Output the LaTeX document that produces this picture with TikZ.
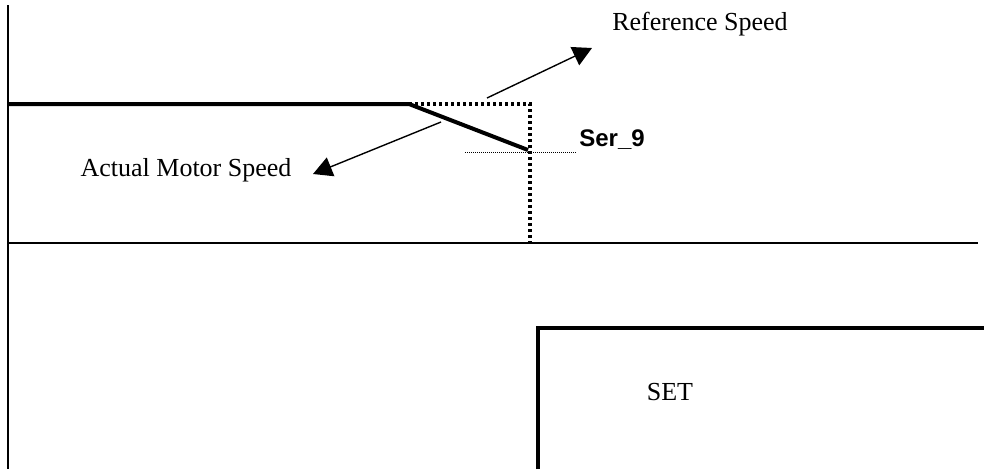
\documentclass[tikz,border=0pt]{standalone}
\usepackage{fontspec}
\setmainfont{Liberation Serif}
\setsansfont{Liberation Sans}
\usetikzlibrary{arrows.meta,positioning}

\begin{document}
\begin{tikzpicture}[x=1pt, y=-1pt]
\tikzset{
  axis/.style={line width=1.3pt, draw=black},
  trace/.style={line width=4pt, draw=black},
  refline/.style={line width=3.3pt, draw=black, dash pattern=on 3.3pt off 2.7pt},
  guide/.style={line width=0.8pt, draw=black, dash pattern=on 1pt off 1pt},
  pointer/.style={-{Triangle[length=19pt,width=20pt]}, line width=1.4pt, draw=black},
  label/.style={inner sep=0pt, anchor=base, font=\fontsize{26}{30}\selectfont},
  tag/.style={inner sep=0pt, anchor=base, font=\sffamily\bfseries\fontsize{24}{28}\selectfont}
}
\useasboundingbox (0,0) rectangle (984,469);

% axes
\coordinate (ytop) at (8,5);
\coordinate (ybot) at (8,469);
\coordinate (xleft) at (8,243);
\coordinate (xright) at (978,243);
\draw[axis] (ytop) -- (ybot);
\draw[axis] (xleft) -- (xright);

% speed traces
\coordinate (start) at (8,104);
\coordinate (knee) at (409,104);
\coordinate (corner) at (530,104);
\coordinate (drop) at (530,243);
\coordinate (ramp) at (528,150);
\draw[trace] (start) -- (knee) -- (ramp);
\draw[refline] (knee) -- (corner) -- (drop);

\coordinate (gleft) at (465,152);
\coordinate (gright) at (576,152);
\draw[guide] (gleft) -- (gright);

\node[tag] (ser) at (612,146) {Ser\_9};

% labels and pointers
\node[label] (refspeed) at (700,30) {Reference Speed};
\node[label] (actspeed) at (186,176) {Actual Motor Speed};
\coordinate (reftail) at (487,98);
\coordinate (reftip) at (592,48);
\coordinate (acttail) at (441,122);
\coordinate (acttip) at (313,174);
\draw[pointer] (reftail) -- (reftip);
\draw[pointer] (acttail) -- (acttip);

% set signal
\coordinate (setlow) at (538,469);
\coordinate (setrise) at (538,328);
\coordinate (sethigh) at (984,328);
\draw[trace] (setlow) -- (setrise) -- (sethigh);
\node[label] (set) at (670,400) {SET};
\end{tikzpicture}
\end{document}
